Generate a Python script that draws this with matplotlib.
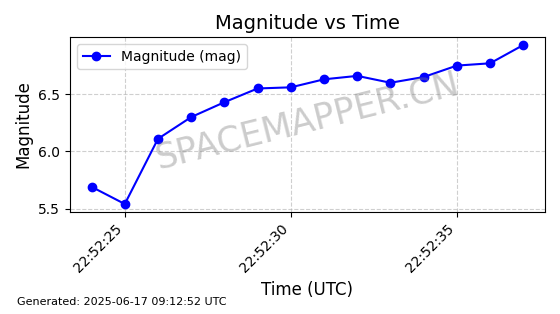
import matplotlib
matplotlib.use("Agg")
import matplotlib.pyplot as plt
import matplotlib.dates as mdates
import pandas as pd

# ===== data =====
times = pd.date_range("2025-06-16 22:52:24", periods=14, freq="s")
magnitude = [5.69, 5.54, 6.11, 6.30, 6.43, 6.55, 6.56, 6.63, 6.66, 6.60, 6.65, 6.75, 6.77, 6.93]
y_ticks = [5.5, 6.0, 6.5]
footer = "Generated: 2025-06-17 09:12:52 UTC"
watermark = "SPACEMAPPER.CN"

fig, ax = plt.subplots(figsize=(5.6, 3.14), dpi=100)
fig.subplots_adjust(left=0.125, right=0.973, top=0.882, bottom=0.325)

ax.plot(times, magnitude, marker="o", color="blue", linestyle="-",
        linewidth=1.5, markersize=6, label="Magnitude (mag)")
ax.set_title("Magnitude vs Time", fontsize=14)
ax.set_xlabel("Time (UTC)", fontsize=12)
ax.set_ylabel("Magnitude", fontsize=12)
ax.set_yticks(y_ticks)
ax.grid(True, linestyle="--", alpha=0.6)
ax.legend(loc="upper left", fontsize=10)

ax.xaxis.set_major_locator(mdates.SecondLocator(bysecond=range(0, 60, 5)))
ax.xaxis.set_major_formatter(mdates.DateFormatter("%H:%M:%S"))
plt.setp(ax.get_xticklabels(), rotation=45, ha="right")

# watermark
ax.text(0.5, 0.52, watermark, transform=ax.transAxes, fontsize=25,
        color="gray", alpha=0.4, rotation=14, ha="center", va="center")

fig.text(0.03, 0.03, footer, fontsize=8)

plt.savefig("out.png")
plt.close()
